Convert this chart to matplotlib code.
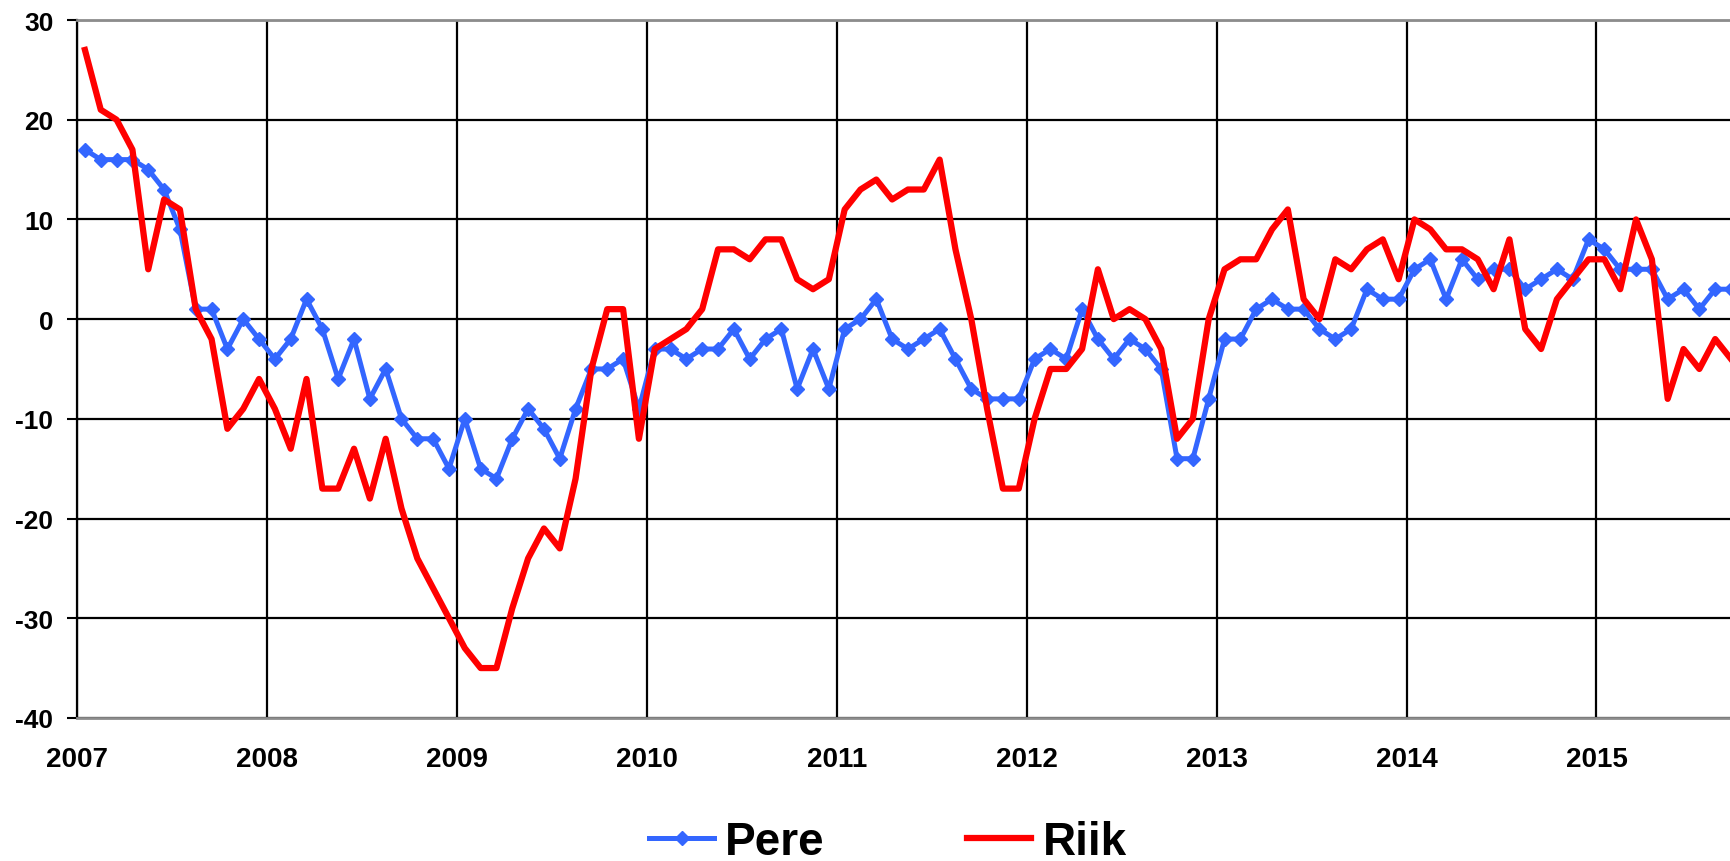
import numpy as np
import pandas as pd
import matplotlib
matplotlib.use("Agg")
import matplotlib.pyplot as plt

# monthly survey balances, Jan 2007 .. Sep 2015
months = pd.date_range("2007-01-01", periods=105, freq="MS")

pere = [
    17, 16, 16, 16, 15, 13, 9, 1, 1, -3, 0, -2, -4, -2, 2,
    -1, -6, -2, -8, -5, -10, -12, -12, -15, -10, -15, -16, -12, -9, -11, -14, -9, -5, -5, -4,
    -9, -3, -3, -4, -3, -3, -1, -4, -2, -1, -7, -3, -7, -1, 0, 2, -2, -3,
    -2, -1, -4, -7, -8, -8, -8, -4, -3, -4, 1, -2, -4, -2, -3, -5, -14, -14, -8,
    -2, -2, 1, 2, 1, 1, -1, -2, -1, 3, 2, 2, 5, 6, 2, 6, 4, 5, 5,
    3, 4, 5, 4, 8, 7, 5, 5, 5, 2, 3, 1, 3, 3,
]
riik = [
    27, 21, 20, 17, 5, 12, 11, 1, -2, -11, -9, -6, -9, -13, -6,
    -17, -17, -13, -18, -12, -19, -24, -27, -30, -33, -35, -35, -29, -24, -21, -23, -16, -5, 1, 1,
    -12, -3, -2, -1, 1, 7, 7, 6, 8, 8, 4, 3, 4, 11, 13, 14, 12, 13,
    13, 16, 7, 0, -9, -17, -17, -10, -5, -5, -3, 5, 0, 1, 0, -3, -12, -10, 0,
    5, 6, 6, 9, 11, 2, 0, 6, 5, 7, 8, 4, 10, 9, 7, 7, 6, 3, 8,
    -1, -3, 2, 4, 6, 6, 3, 10, 6, -8, -3, -5, -2, -4,
]
years = list(range(2007, 2016))
y_ticks = list(range(-40, 31, 10))

# points sit in the middle of each month
x = months.year + (months.month - 0.5) / 12.0

fig = plt.figure(figsize=(17.31, 8.62), dpi=100)
ax = fig.add_axes([0.0445, 0.166, 0.9555, 0.8096])

ax.plot(x, pere, color="#3366FF", lw=3.6, marker="D", ms=7, mec="#3366FF",
        label="Pere", zorder=3)
ax.plot(x, riik, color="#FF0000", lw=4.5, label="Riik", zorder=4)

ax.set_xlim(2007, x[-1])
ax.set_ylim(-40, 30)
ax.set_xticks(years)
ax.set_yticks(y_ticks)
ax.set_xticklabels([str(y) for y in years], fontsize=20, fontweight="bold",
                   family=["Liberation Sans Narrow", "Liberation Sans"])
ax.set_yticklabels([str(v) for v in y_ticks], fontsize=19, fontweight="bold",
                   family="Liberation Sans")
ax.tick_params(axis="x", length=0, pad=20)
ax.tick_params(axis="y", length=7, width=1.5, color="black", pad=10)

ax.grid(True, color="black", lw=1.6, zorder=1)
ax.set_axisbelow(True)

ax.spines["right"].set_visible(False)
ax.spines["left"].set_color("black")
ax.spines["left"].set_linewidth(1.6)
for s in ("top", "bottom"):
    ax.spines[s].set_color("#8c8c8c")
    ax.spines[s].set_linewidth(2)

leg = fig.legend(loc="center", bbox_to_anchor=(0.513, 0.022), ncol=2,
                 frameon=False, handlelength=1.4, handletextpad=0.25,
                 columnspacing=3.1, borderpad=0,
                 prop={"family": "Liberation Sans", "weight": "bold", "size": 33})

fig.savefig("out.png", dpi=100)
